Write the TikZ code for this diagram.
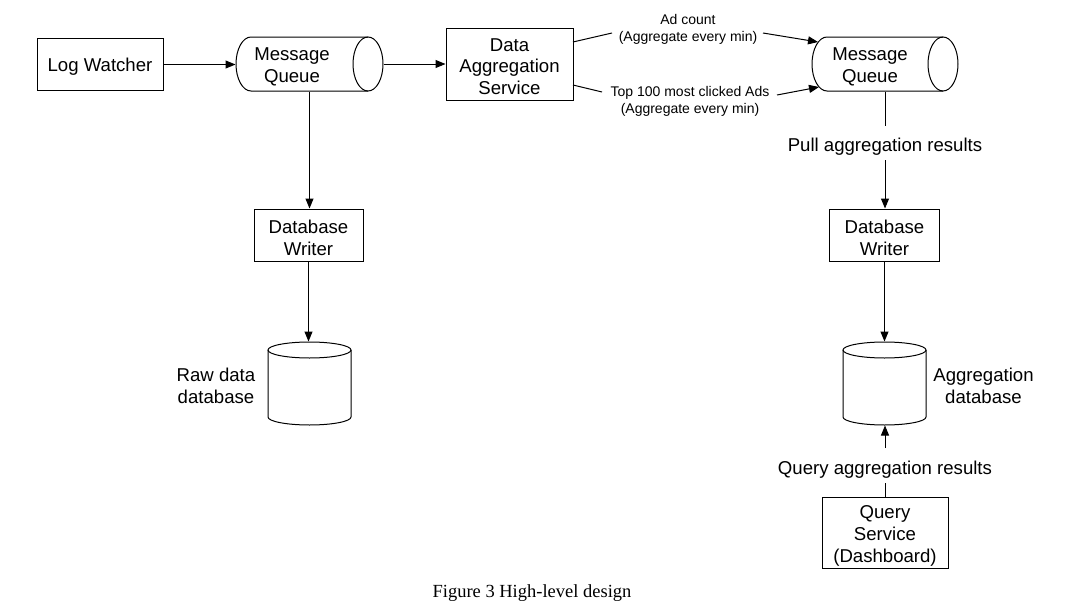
\documentclass[tikz,border=0pt]{standalone}
\usepackage{fontspec}
\setsansfont{Liberation Sans}
\newfontfamily\capfont{Liberation Serif}
\usetikzlibrary{arrows.meta}
\begin{document}
\begin{tikzpicture}[x=1pt,y=-1pt, line width=1pt,
  font=\sffamily\fontsize{18.6}{21.7}\selectfont,
  box/.style={draw, rectangle, inner sep=0pt},
  txt/.style={align=center, inner sep=0pt},
  ghost/.style={rectangle, inner sep=0pt},
  conn/.style={-{Triangle[length=10pt,width=8pt]}},
  small/.style={font=\sffamily\fontsize{14}{17}\selectfont, align=center, inner sep=0pt}]
\useasboundingbox (0,0) rectangle (1072,608);

% ---- boxes
\node[box, minimum width=126pt, minimum height=52pt] (lw) at (100,64.5) {};
\node[txt] (lwt) at (100,67) {Log Watcher};
\node[box, minimum width=127pt, minimum height=72pt] (das) at (509.5,64) {};
\node[txt] (dast) at (509.5,66.5) {Data\\Aggregation\\Service};
\node[box, minimum width=109pt, minimum height=52pt] (dbw1) at (308.5,235) {};
\node[txt] (dbw1t) at (308.5,237.5) {Database\\Writer};
\node[box, minimum width=110pt, minimum height=52pt] (dbw2) at (884.5,235) {};
\node[txt] (dbw2t) at (884.5,237.5) {Database\\Writer};
\node[box, minimum width=126pt, minimum height=71pt] (qs) at (885,532.5) {};
\node[txt] (qst) at (885,536) {Query\\Service\\(Dashboard)};

% ---- message queue 1 (horizontal cylinder)
\node[ghost, minimum width=147pt, minimum height=54pt] (mq1) at (309.5,64) {};
\draw (368,37) -- (251,37) arc[start angle=270, end angle=90, x radius=15, y radius=27] -- (368,91);
\draw (368,64) ellipse[x radius=15, y radius=27];
\node[txt] (mq1t) at (292,67) {Message\\Queue};

% ---- message queue 2
\node[ghost, minimum width=146pt, minimum height=54pt] (mq2) at (885,64) {};
\draw (943,37) -- (827,37) arc[start angle=270, end angle=90, x radius=15, y radius=27] -- (943,91);
\draw (943,64) ellipse[x radius=15, y radius=27];
\node[txt] (mq2t) at (870,67) {Message\\Queue};

% ---- raw data database
\node[ghost, minimum width=83pt, minimum height=83pt] (db1) at (309.5,383.5) {};
\draw (268,350) -- (268,417) arc[start angle=180, end angle=0, x radius=41.5, y radius=8] -- (351,350);
\draw (309.5,350) ellipse[x radius=41.5, y radius=8];
\node[txt] (rawl) at (216,386) {Raw data\\database};

% ---- aggregation database
\node[ghost, minimum width=83pt, minimum height=83pt] (db2) at (884.5,383.5) {};
\draw (843,350) -- (843,417) arc[start angle=180, end angle=0, x radius=41.5, y radius=8] -- (926,350);
\draw (884.5,350) ellipse[x radius=41.5, y radius=8];
\node[txt] (aggl) at (983.5,386) {Aggregation\\database};

% ---- connector labels
\node[small] (adl) at (688,29) {Ad count\\(Aggregate every min)};
\node[small] (topl) at (690,101.5) {Top 100 most clicked Ads\\(Aggregate every min)};
\node[txt] (pull) at (885,147) {Pull aggregation results};
\node[txt] (qlbl) at (885,469.5) {Query aggregation results};
\node[font=\capfont\fontsize{18.5}{21}\selectfont, inner sep=0pt] (cap) at (532,593) {Figure 3 High-level design};

% ---- connectors
\draw[conn] (lw.east) -- (lw.east -| mq1.west);
\draw[conn] (mq1.east) -- (das.west);
\draw[conn] (mq1.south) -- (mq1.south |- dbw1.north);
\draw[conn] (dbw1.south) -- (dbw1.south |- db1.north);

\coordinate (a0) at (573,42);
\coordinate (a1) at (612,33);
\coordinate (a2) at (763,33);
\coordinate (a3) at (818,42);
\coordinate (b0) at (573,85);
\coordinate (b1) at (602,92);
\coordinate (b2) at (777,95);
\coordinate (b3) at (819,87);
\draw (a0) -- (a1);
\draw[conn] (a2) -- (a3);
\draw (b0) -- (b1);
\draw[conn] (b2) -- (b3);

\coordinate (p1) at (885,126);
\coordinate (p2) at (885,160);
\coordinate (q1) at (885,448);
\coordinate (q2) at (885,483);
\draw (mq2.south) -- (p1);
\draw[conn] (p2) -- (p2 |- dbw2.north);
\draw[conn] (dbw2.south) -- (dbw2.south |- db2.north);
\draw[conn] (q1) -- (q1 |- db2.south);
\draw (qs.north) -- (q2);
\end{tikzpicture}
\end{document}
